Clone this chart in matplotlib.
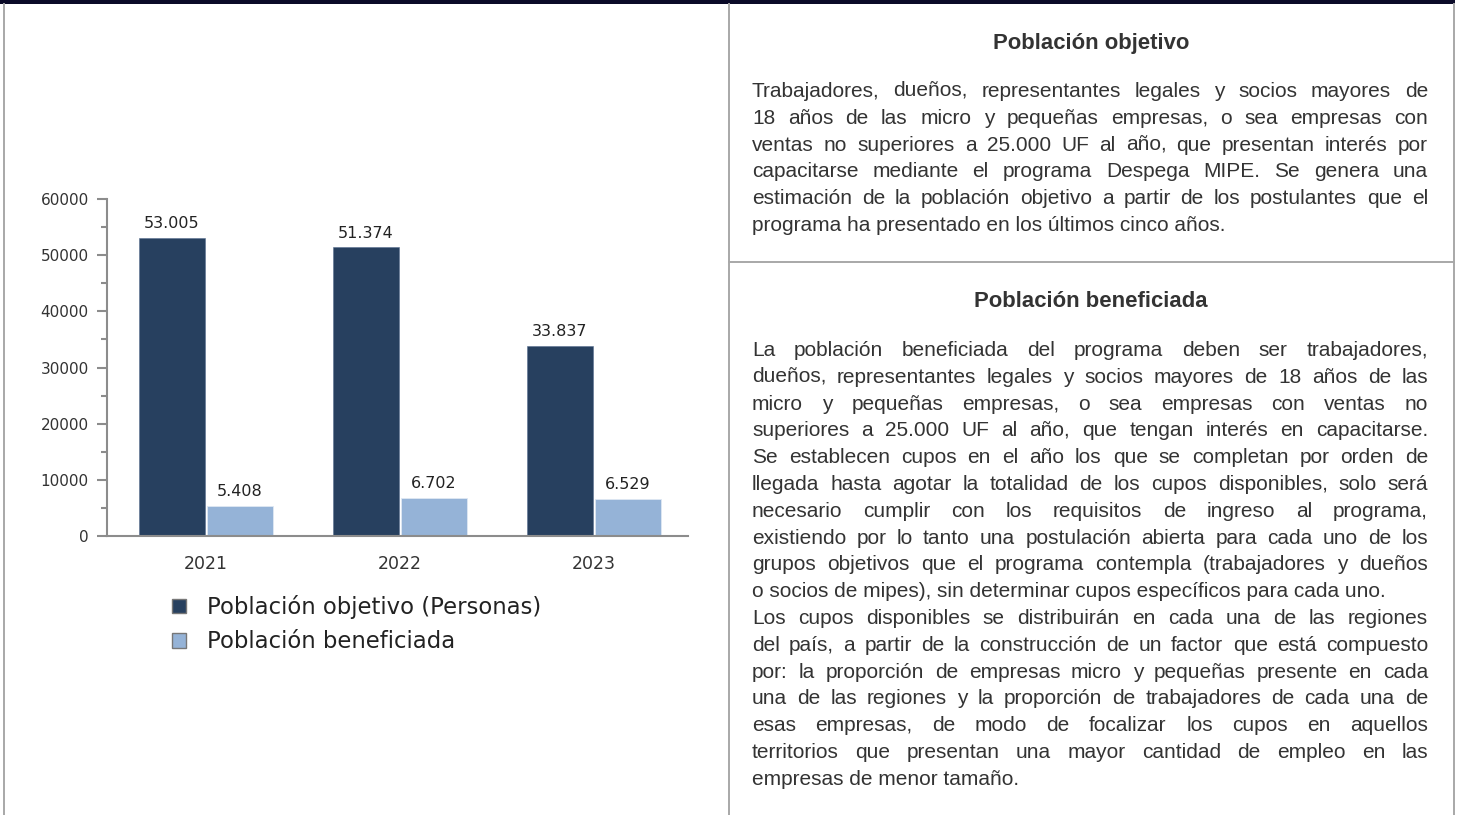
import math
import matplotlib
matplotlib.use('Agg')
import matplotlib.pyplot as plt
from matplotlib.lines import Line2D
from matplotlib.patches import Rectangle
from matplotlib.ticker import MultipleLocator
from matplotlib.font_manager import FontProperties
import numpy as np

# ---------------- data ----------------
years = ['2021', '2022', '2023']
objetivo = [53005, 51374, 33837]
beneficiada = [5408, 6702, 6529]
series_labels = ['Población objetivo (Personas)', 'Población beneficiada']

title1 = 'Población objetivo'
par1 = [[
    'Trabajadores, dueños, representantes legales y socios mayores de',
    '18 años de las micro y pequeñas empresas, o sea empresas con',
    'ventas no superiores a 25.000 UF al año, que presentan interés por',
    'capacitarse mediante el programa Despega MIPE. Se genera una',
    'estimación de la población objetivo a partir de los postulantes que el',
    'programa ha presentado en los últimos cinco años.',
]]
title2 = 'Población beneficiada'
par2 = [[
    'La población beneficiada del programa deben ser trabajadores,',
    'dueños, representantes legales y socios mayores de 18 años de las',
    'micro y pequeñas empresas, o sea empresas con ventas no',
    'superiores a 25.000 UF al año, que tengan interés en capacitarse.',
    'Se establecen cupos en el año los que se completan por orden de',
    'llegada hasta agotar la totalidad de los cupos disponibles, solo será',
    'necesario cumplir con los requisitos de ingreso al programa,',
    'existiendo por lo tanto una postulación abierta para cada uno de los',
    'grupos objetivos que el programa contempla (trabajadores y dueños',
    'o socios de mipes), sin determinar cupos específicos para cada uno.',
], [
    'Los cupos disponibles se distribuirán en cada una de las regiones',
    'del país, a partir de la construcción de un factor que está compuesto',
    'por: la proporción de empresas micro y pequeñas presente en cada',
    'una de las regiones y la proporción de trabajadores de cada una de',
    'esas empresas, de modo de focalizar los cupos en aquellos',
    'territorios que presentan una mayor cantidad de empleo en las',
    'empresas de menor tamaño.',
]]

# ---------------- figure ----------------
W, H = 1462, 815
fig = plt.figure(figsize=(W / 100, H / 100), dpi=100)
fig.patch.set_facecolor('white')


def fx(px):
    return px / W


def fy(py):
    return 1 - py / H


DARK = '#27405F'
LIGHT = '#95B3D7'
AXC = '#8c8c8c'
TXT = '#333333'

ax = fig.add_axes([fx(107), fy(536), fx(688) - fx(107), fy(199) - fy(536)])
x = np.arange(len(years))
bw = 0.34
b1 = ax.bar(x - bw / 2 - 0.005, objetivo, bw, color=DARK, edgecolor='#5a7090', linewidth=0.4)
b2 = ax.bar(x + bw / 2 + 0.005, beneficiada, bw, color=LIGHT, edgecolor='#dfe8f3', linewidth=0.6)
ax.set_xlim(-0.51, 2.485)
ax.set_ylim(0, 60000)
for s in ['top', 'right']:
    ax.spines[s].set_visible(False)
for s in ['left', 'bottom']:
    ax.spines[s].set_color(AXC)
    ax.spines[s].set_linewidth(1.5)
ax.yaxis.set_major_locator(MultipleLocator(10000))
ax.yaxis.set_minor_locator(MultipleLocator(5000))
ax.tick_params(axis='y', which='major', length=7.2, width=1.5, color=AXC,
               labelsize=11, labelcolor=TXT, pad=6)
ax.tick_params(axis='y', which='minor', length=4.3, width=1.5, color=AXC)
ax.set_xticks(x)
ax.set_xticklabels(years)
ax.tick_params(axis='x', length=0, pad=14, labelsize=12.5, labelcolor=TXT)


def fmt(v):
    return f'{v:,}'.replace(',', '.')


for bars, vals in ((b1, objetivo), (b2, beneficiada)):
    for r, v in zip(bars, vals):
        ax.annotate(fmt(v), (r.get_x() + r.get_width() / 2, v), xytext=(0, 5),
                    textcoords='offset points', ha='center', va='bottom',
                    fontsize=11.5, color='#222222')

handles = [Rectangle((0, 0), 1, 1, facecolor=DARK, edgecolor='#777777', linewidth=1),
           Rectangle((0, 0), 1, 1, facecolor=LIGHT, edgecolor='#777777', linewidth=1)]
fig.legend(handles, series_labels, loc='upper left', bbox_to_anchor=(fx(172), fy(595)),
           frameon=False, fontsize=16.4, handlelength=0.6, handleheight=0.6,
           handletextpad=0.95, labelspacing=0.5, borderaxespad=0, borderpad=0,
           labelcolor='#222222')

# ---------------- frame ----------------
fig.add_artist(Rectangle((0, fy(4)), fx(1455), 4 / H, transform=fig.transFigure,
                         facecolor='#0a0a28', edgecolor='none'))
LC = '#a8a8a8'
for (xa, ya, xb, yb) in [(3.5, 4, 3.5, 815), (728.5, 4, 728.5, 815),
                         (1453.5, 4, 1453.5, 815), (728.5, 262, 1453.5, 262)]:
    fig.add_artist(Line2D([fx(xa), fx(xb)], [fy(ya), fy(yb)], transform=fig.transFigure,
                          color=LC, linewidth=1.4))

# ---------------- text panels ----------------
renderer = fig.canvas.get_renderer()
body = FontProperties(family='Liberation Sans', size=15.0)
bold = FontProperties(family='Liberation Sans', size=15.9, weight='bold')
X0, X1 = 752, 1428
LS = 26.8


def metrics(s):
    return renderer.get_text_width_height_descent(s, body, ismath=False)


def tw(s):
    return metrics(s)[0]


def snap(word, yb):
    """Small integer correction so every word lands on the same pixel baseline."""
    try:
        _, h, d = metrics(word)
        s_word = round(yb + d) - math.floor(h) + math.floor(h - d)
        delta = round(yb) - s_word
        delta = max(-1, min(1, delta))
    except Exception:
        delta = 0
    return yb + delta


def put(xx, yb, s):
    fig.text(fx(xx), fy(snap(s, yb)), s, ha='left', va='baseline',
             fontproperties=body, color=TXT)


def draw_pars(pars, y0):
    i = 0
    for par in pars:
        for j, line in enumerate(par):
            yb = round(y0 + i * LS)
            words = line.split(' ')
            if j < len(par) - 1 and len(words) > 1:
                widths = [tw(w) for w in words]
                gap = (X1 - X0 - sum(widths)) / (len(words) - 1)
                xx = X0
                for w, wd in zip(words, widths):
                    put(xx, yb, w)
                    xx += wd + gap
            else:
                put(X0, yb, line)
            i += 1


fig.text(fx(1091), fy(49), title1, ha='center', va='baseline', fontproperties=bold, color=TXT)
draw_pars(par1, 97)
fig.text(fx(1091), fy(307), title2, ha='center', va='baseline', fontproperties=bold, color=TXT)
draw_pars(par2, 356)

fig.savefig('out.png', dpi=100, facecolor='white')
